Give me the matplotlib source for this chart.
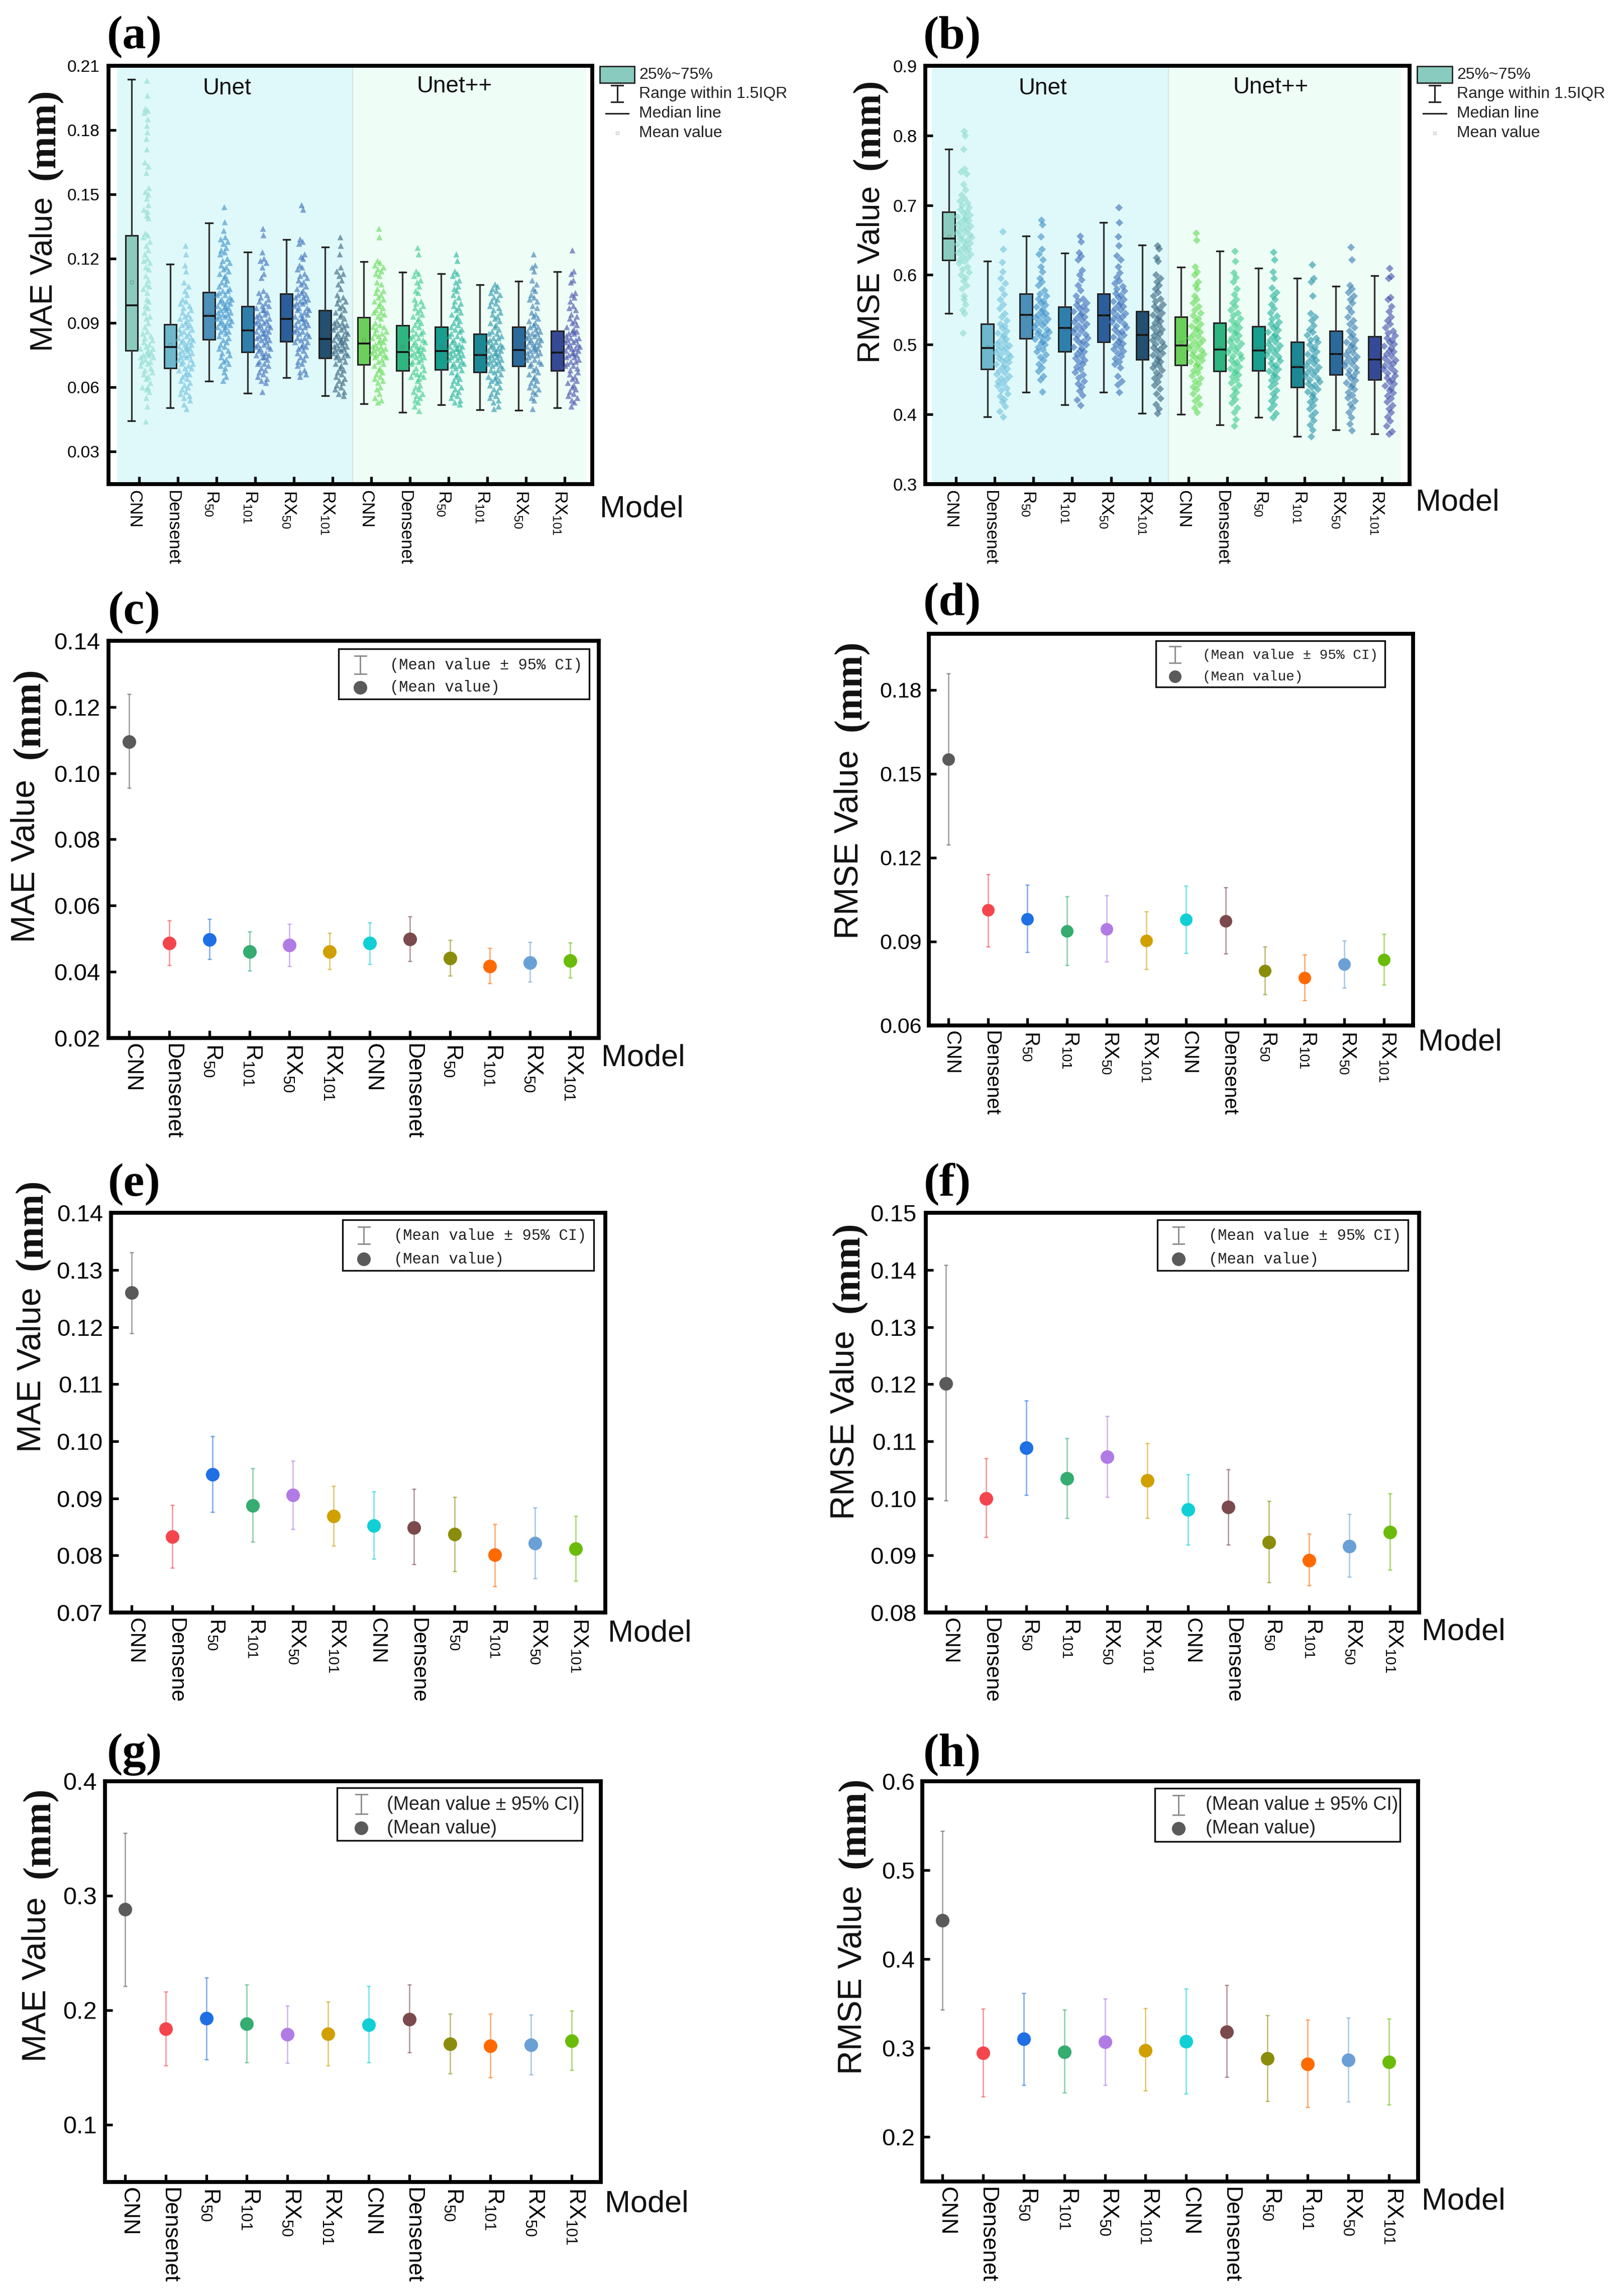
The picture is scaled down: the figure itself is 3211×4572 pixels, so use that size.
import matplotlib
matplotlib.use("Agg")
import matplotlib.pyplot as plt
from matplotlib.lines import Line2D
from matplotlib.patches import Rectangle
from matplotlib.transforms import ScaledTranslation

plt.rcParams['font.family'] = ['Liberation Sans', 'DejaVu Sans']
plt.rcParams['mathtext.fontset'] = 'custom'
plt.rcParams['mathtext.rm'] = 'Liberation Sans'
plt.rcParams['mathtext.default'] = 'rm'

W, H = 3211, 4572
fig = plt.figure(figsize=(W / 100, H / 100), dpi=100, facecolor='white')

LABELS = ['CNN', 'Densenet', 'R$_{50}$', 'R$_{101}$', 'RX$_{50}$', 'RX$_{101}$'] * 2
LABELS_SHORT = ['CNN', 'Densene', 'R$_{50}$', 'R$_{101}$', 'RX$_{50}$', 'RX$_{101}$'] * 2

BOX_COLORS = ['#8ACBBE', '#6DB8CD', '#4C8FB8', '#2F7FAD', '#2B5E9B', '#234F70',
              '#6BCF5C', '#2FB57F', '#189E8E', '#1C8894', '#2C6A9C', '#354A96']
PT_COLORS = ['#8FDDCF', '#74C3DF', '#3F92CC', '#3F6FBC', '#3C70BA', '#38647F',
             '#66DC58', '#3CCB8C', '#27B39C', '#2A96AC', '#3A7EB2', '#4651AE']
CI_COLORS = ['#5A5A5A', '#F4454D', '#1F6FE5', '#35AC70', '#B17BE5', '#D0A000',
             '#10D0D5', '#7A4A4C', '#8C8C0C', '#FF6A00', '#6AA0D5', '#6BBB0A']

# ---- panel (a): MAE box statistics
a_whislo = [.0443, .0505, .0627, .0573, .0644, .0560, .0522, .0484, .0518, .0494, .0493, .0505]
a_q1 = [.0771, .0689, .0823, .0763, .0814, .0737, .0706, .0677, .0682, .0670, .0699, .0677]
a_med = [.0981, .0787, .0933, .0864, .0919, .0826, .0804, .0765, .0768, .0751, .0773, .0761]
a_q3 = [.1308, .0892, .1042, .0978, .1035, .0959, .0926, .0887, .0882, .0849, .0882, .0863]
a_whishi = [.2035, .1174, .1365, .1231, .1288, .1253, .1186, .1136, .1129, .1078, .1095, .1138]
a_mean = [.109, .080, .094, .087, .093, .085, .082, .079, .079, .076, .079, .077]

# ---- panel (b): RMSE box statistics
b_whislo = [.545, .397, .432, .414, .432, .402, .400, .385, .396, .369, .378, .372]
b_q1 = [.621, .465, .509, .490, .504, .479, .471, .462, .463, .439, .457, .450]
b_med = [.652, .495, .543, .524, .542, .514, .499, .493, .492, .468, .487, .479]
b_q3 = [.690, .530, .573, .554, .573, .548, .540, .531, .526, .504, .520, .512]
b_whishi = [.780, .620, .656, .631, .675, .643, .611, .634, .610, .595, .584, .599]
b_mean = [.655, .497, .542, .523, .540, .514, .503, .495, .494, .470, .488, .480]

# ---- scatter values (thousandths of a mm)
a_pts_0 = [203,196,190,189,188,185,182,179,176,171,165,163,160,153,151,150,148,145,143,142,140,139,132,131,130,128,126,124,122,120,119,118,116,115,112,110,108,107,106,104,101,100,98,97,95,93,92,90,88,86,85,84,83,82,81,80,79,78,78,77,76,76,75,75,74,74,73,72,72,71,70,69,68,67,66,65,64,62,60,60,59,58,55,51,44]
a_pts_1 = [126,122,117,114,109,107,105,103,101,100,99,98,97,96,95,94,93,92,92,91,90,89,89,88,87,87,86,85,85,84,83,83,82,82,81,81,80,80,79,79,78,78,77,77,76,76,75,75,74,74,73,73,72,71,71,70,69,69,68,67,66,66,65,64,63,62,61,60,59,58,57,56,55,54,52,50]
a_pts_2 = [144,137,133,130,129,128,127,125,124,123,122,120,119,118,117,116,115,114,113,112,111,110,109,108,107,106,105,105,104,103,103,102,101,101,100,100,99,99,98,98,97,97,96,96,95,95,94,94,93,93,92,92,91,91,90,90,89,89,88,88,87,86,86,85,84,83,82,81,80,79,78,77,76,75,74,73,72,71,70,69,67,65,63]
a_pts_3 = [134,131,123,120,119,118,116,113,111,105,104,103,102,101,100,99,98,98,97,96,96,95,94,94,93,92,92,91,91,90,90,89,89,88,88,87,87,86,86,85,85,84,84,83,83,82,82,81,80,80,79,79,78,78,77,76,76,75,75,74,74,73,72,71,71,70,69,68,67,66,65,64,63,62,58]
a_pts_4 = [145,143,129,128,127,122,121,120,117,116,115,113,112,111,110,109,108,107,106,105,104,103,103,102,102,101,100,100,99,99,98,97,97,96,96,95,94,94,93,92,92,91,91,90,89,89,88,88,87,86,86,85,85,84,83,83,82,81,81,80,79,79,78,77,76,75,74,73,72,71,70,68,67,66,65]
a_pts_5 = [130,126,122,116,114,113,112,110,108,106,103,102,101,100,99,98,97,96,95,94,93,92,91,90,90,89,89,88,88,87,87,86,85,85,84,84,83,83,82,82,81,81,80,80,79,79,78,78,77,77,76,76,75,75,74,74,73,72,71,70,69,68,67,66,65,64,63,62,61,60,59,58,57,56]
a_pts_6 = [134,130,119,118,117,116,115,114,113,112,109,108,106,105,104,103,102,101,100,99,98,97,96,95,95,94,93,92,90,89,88,88,87,86,85,85,84,83,83,82,81,81,80,79,79,78,78,77,77,76,76,75,75,74,74,73,72,71,70,69,68,67,66,65,64,63,62,60,59,57,55,54,53]
a_pts_7 = [125,122,114,113,112,110,109,107,105,104,101,100,99,98,97,96,95,94,93,92,91,90,89,88,87,86,85,85,84,83,83,82,81,81,80,79,79,78,78,77,77,76,76,75,75,74,74,73,72,72,71,70,69,68,67,66,66,65,65,64,63,61,60,59,58,57,56,55,54,53,51,49]
a_pts_8 = [122,119,114,113,112,110,109,107,106,105,103,102,100,99,98,97,96,95,94,93,92,91,90,89,88,87,87,86,85,84,84,83,82,82,81,80,80,79,79,78,78,77,77,76,76,75,75,74,74,73,73,72,71,71,70,70,69,68,67,66,65,64,63,62,61,60,59,58,57,56,55,54,53,52]
a_pts_9 = [108,107,106,105,104,103,102,101,100,99,98,97,96,95,94,93,92,91,90,89,88,87,86,85,85,84,83,83,82,81,81,80,80,79,79,78,78,77,77,76,76,75,75,74,74,73,73,72,72,71,71,70,70,69,68,68,67,66,65,65,64,63,63,62,61,60,59,58,57,56,55,54,53,51,50]
a_pts_10 = [122,117,116,114,110,108,106,105,103,102,101,100,98,97,95,94,93,92,91,90,89,88,88,87,86,86,85,85,84,84,83,83,82,82,81,81,80,80,79,79,78,78,77,77,76,76,75,75,74,73,73,72,71,71,70,69,68,67,66,65,64,63,62,61,60,59,58,57,55,54,50]
a_pts_11 = [124,114,113,110,109,104,103,102,100,98,97,96,94,93,92,91,90,89,88,87,86,86,85,85,84,83,83,82,82,81,81,80,80,79,79,78,78,77,77,76,76,75,75,74,74,73,72,72,71,70,70,69,68,67,66,65,64,63,62,61,60,59,58,57,56,55,54,53,51]
a_points = [a_pts_0, a_pts_1, a_pts_2, a_pts_3, a_pts_4, a_pts_5, a_pts_6, a_pts_7, a_pts_8, a_pts_9, a_pts_10, a_pts_11]

b_pts_0 = [806,800,780,752,748,745,730,722,715,710,706,703,700,697,694,691,688,686,684,682,680,678,676,674,672,670,668,666,664,662,660,658,656,654,652,650,648,646,644,642,640,638,636,634,632,630,628,625,622,620,617,612,608,604,600,596,592,585,580,570,565,558,550,545,517]
b_pts_1 = [662,637,618,605,595,588,580,572,565,558,552,545,540,535,530,527,524,520,517,514,511,508,505,503,501,499,497,495,493,491,489,487,485,483,481,479,477,475,472,470,468,466,463,460,458,455,452,450,447,444,441,438,435,430,426,422,418,412,405,397]
b_pts_2 = [679,672,655,637,630,622,612,605,595,590,585,578,573,570,566,563,560,557,554,551,548,545,543,541,539,537,535,532,530,528,525,522,520,518,516,514,512,510,508,505,503,500,497,493,490,486,482,478,472,467,462,455,450,433]
b_pts_3 = [656,648,632,627,622,607,600,593,585,578,570,566,563,560,557,555,552,550,548,545,543,540,538,535,533,530,528,525,523,520,518,515,513,510,508,505,503,500,497,495,492,490,487,484,481,478,475,472,468,465,461,457,453,448,444,440,434,428,421,413]
b_pts_4 = [697,675,655,642,628,622,612,603,597,592,588,584,580,577,574,571,568,565,562,560,557,555,552,550,547,545,542,540,538,535,533,530,527,525,522,519,517,514,511,508,505,502,500,497,494,491,488,484,480,476,472,467,455,448,443,432]
b_pts_5 = [642,638,625,620,600,595,590,585,580,575,570,566,562,558,555,552,549,546,543,540,537,534,531,528,525,522,519,516,513,510,507,504,501,498,496,494,491,488,485,482,479,476,473,470,467,464,460,456,452,447,442,437,430,423,415,408,402]
b_pts_6 = [660,650,612,605,600,590,585,580,570,565,560,555,550,546,542,538,534,530,527,524,521,518,515,512,510,507,505,502,499,497,495,492,490,487,485,483,481,478,476,473,470,467,463,460,456,452,448,444,440,436,430,425,420,415,410,403]
b_pts_7 = [634,620,603,597,590,580,572,565,560,555,550,546,542,538,535,531,528,525,522,519,516,513,510,507,505,502,499,496,494,491,489,486,484,481,478,475,472,469,466,463,460,457,454,450,446,442,437,432,427,422,417,410,403,393,384]
b_pts_8 = [633,622,605,595,582,575,570,565,558,552,546,541,537,533,530,527,524,521,518,515,512,510,507,504,501,499,496,493,491,488,485,483,480,477,474,471,468,465,462,459,456,453,449,445,440,435,430,425,420,414,408,402,396]
b_pts_9 = [615,595,590,570,545,540,535,528,522,518,514,510,507,504,500,497,493,490,487,484,481,478,476,473,470,468,465,462,460,457,455,452,450,447,444,442,439,436,433,430,426,422,418,413,408,403,398,392,385,378,369]
b_pts_10 = [640,622,585,580,575,570,565,560,553,547,540,535,530,525,520,515,511,507,504,501,498,495,492,489,486,483,481,478,475,473,470,467,464,461,458,455,452,449,446,443,440,436,432,428,424,420,415,410,403,396,387,377]
b_pts_11 = [610,598,595,568,565,555,548,540,535,530,525,520,517,513,510,507,504,501,498,495,492,490,487,484,481,478,476,473,470,467,465,462,459,456,453,450,447,444,441,438,435,431,427,423,418,413,408,403,397,391,384,376,372]
b_points = [b_pts_0, b_pts_1, b_pts_2, b_pts_3, b_pts_4, b_pts_5, b_pts_6, b_pts_7, b_pts_8, b_pts_9, b_pts_10, b_pts_11]

# ---- panels (c)-(h): mean with 95% CI
c_mean = [.1095, .0486, .0497, .0461, .0480, .0460, .0486, .0498, .0441, .0417, .0428, .0434]
c_hi = [.1239, .0555, .0559, .0521, .0544, .0517, .0549, .0567, .0496, .0472, .0489, .0488]
c_lo = [.0955, .0419, .0438, .0403, .0416, .0407, .0423, .0432, .0388, .0365, .0369, .0382]

d_mean = [.1552, .1012, .0980, .0937, .0945, .0903, .0978, .0974, .0796, .0771, .0818, .0835]
d_hi = [.1859, .1141, .1103, .1061, .1065, .1007, .1099, .1094, .0881, .0852, .0904, .0926]
d_lo = [.1247, .0881, .0862, .0815, .0827, .0801, .0858, .0856, .0711, .0690, .0734, .0745]

e_mean = [.1260, .0833, .0942, .0887, .0906, .0869, .0852, .0849, .0837, .0801, .0821, .0812]
e_hi = [.1331, .0888, .1009, .0952, .0966, .0922, .0912, .0916, .0902, .0855, .0884, .0869]
e_lo = [.1189, .0778, .0876, .0824, .0846, .0817, .0794, .0784, .0772, .0746, .0760, .0755]

f_mean = [.1201, .1000, .1088, .1035, .1073, .1031, .0980, .0985, .0923, .0891, .0916, .0941]
f_hi = [.1409, .1070, .1171, .1105, .1144, .1096, .1042, .1051, .0995, .0938, .0972, .1008]
f_lo = [.0996, .0932, .1006, .0965, .1002, .0965, .0919, .0919, .0853, .0847, .0862, .0875]

g_mean = [.2880, .1837, .1927, .1882, .1786, .1792, .1873, .1921, .1705, .1686, .1695, .1731]
g_hi = [.3549, .2162, .2284, .2223, .2037, .2072, .2210, .2220, .1969, .1966, .1959, .1992]
g_lo = [.2207, .1515, .1570, .1544, .1538, .1518, .1544, .1628, .1444, .1412, .1438, .1477]

h_mean = [.4432, .2946, .3100, .2954, .3066, .2975, .3075, .3183, .2884, .2822, .2867, .2842]
h_hi = [.5440, .3440, .3618, .3432, .3556, .3444, .3668, .3705, .3369, .3319, .3340, .3328]
h_lo = [.3432, .2456, .2585, .2498, .2585, .2523, .2485, .2672, .2402, .2332, .2398, .2361]

# horizontal spread pattern of the strip points, in pixels
STRIP_OFFSETS = [0, 9, -7, 4, -12, 13, -3, 7, -10, 2, -14, 11, -5, 15, -8, 6, -1, 12, -13, 3]


def zp(cfg, zx, zy):
    """Reference crop position to figure fraction."""
    return ((cfg['x0'] + zx / cfg['sx']) / W, 1 - (cfg['y0'] + zy / 1.3635) / H)


def make_axes(cfg):
    x1, y1 = zp(cfg, cfg['L'], cfg['B'])
    x2, y2 = zp(cfg, cfg['R'], cfg['T'])
    ax = fig.add_axes([x1, y1, x2 - x1, y2 - y1])
    t0, dt = cfg['t0'], cfg['dt']
    ax.set_xlim((cfg['L'] - t0) / dt, (cfg['R'] - t0) / dt)
    ax.set_ylim(*cfg['ylim'])
    ax.set_xticks(range(12))
    ax.set_xticklabels(cfg.get('labels', LABELS), rotation=270, fontsize=cfg['xfs'])
    ax.set_yticks(cfg['yticks'])
    ax.set_yticklabels(cfg['ytl'], fontsize=cfg['yfs'])
    ax.tick_params(axis='x', direction='in', length=11, width=3.8, pad=8)
    ax.tick_params(axis='y', direction='in', length=11, width=3.8, pad=cfg['ypad'])
    shift = ScaledTranslation(cfg['lshift'] / 100, 0, fig.dpi_scale_trans)
    for tick in ax.xaxis.get_major_ticks():
        tick.label1.set_transform(tick.label1.get_transform() + shift)
    for s in ax.spines.values():
        s.set_linewidth(5.6)
        s.set_color('black')
    lab, lx, ly, lfs = cfg['ylab']
    x, y = zp(cfg, lx, ly)
    fig.text(x, y, lab, rotation=90, ha='center', va='center', fontsize=lfs, color='#111111')
    lx, ly = cfg['mm']
    x, y = zp(cfg, lx, ly)
    fig.text(x, y, '(mm)', rotation=90, ha='center', va='center', fontsize=56,
             family='Liberation Serif', weight='bold', color='#111111')
    x, y = zp(cfg, *cfg['model'])
    fig.text(x, y, 'Model', ha='left', va='center', fontsize=44, color='#111111')
    x, y = zp(cfg, *cfg['letter'])
    fig.text(x, y, cfg['name'], ha='center', va='center', fontsize=68,
             family='Liberation Serif', weight='bold', color='black')
    return ax


def strip_offsets(values, near):
    """Spread each point sideways according to how crowded its height is."""
    out = []
    for k, v in enumerate(values):
        n = sum(1 for u in values if abs(u - v) <= near)
        out.append(STRIP_OFFSETS[k % len(STRIP_OFFSETS)] * min(1.0, n / 7))
    return out


def box_panel(cfg, lo, q1, med, q3, hi, mean, points, marker, div):
    ax = make_axes(cfg)
    bgL, bgM, bgR = div
    ax.axvspan(bgL, bgM, color='#DFF9FA', lw=0, zorder=0)
    ax.axvspan(bgM, bgR, color='#EEFDF6', lw=0, zorder=0)
    ax.axvline(bgM, color='#D8E4E6', lw=1.6, zorder=0.5)
    stats = [dict(whislo=lo[i], q1=q1[i], med=med[i], q3=q3[i], whishi=hi[i], mean=mean[i], fliers=[])
             for i in range(12)]
    pos = [i - 0.19 for i in range(12)]
    arts = ax.bxp(stats, positions=pos, widths=0.32, patch_artist=True, showmeans=True,
                  manage_ticks=False, capwidths=0.17,
                  medianprops=dict(color='#111111', lw=2.6),
                  whiskerprops=dict(color='#333333', lw=2.4),
                  capprops=dict(color='#222222', lw=2.4),
                  boxprops=dict(edgecolor='#222222', lw=2.2),
                  meanprops=dict(marker='s', ms=4, mfc='none', mec='#55555566', mew=0.8))
    for patch, c in zip(arts['boxes'], BOX_COLORS):
        patch.set_facecolor(c)
    span = cfg['ylim'][1] - cfg['ylim'][0]
    px_x = cfg['dt'] / cfg['sx']
    for i, vals in enumerate(points):
        ys = [v / 1000 for v in vals]
        offs = strip_offsets(ys, span * 0.014)
        ax.scatter([i + 0.2 + o / px_x for o in offs], ys, s=cfg['ms'], marker=marker,
                   color=PT_COLORS[i], alpha=0.62, linewidths=0, zorder=3)
    for txt, zx, zy in cfg['regions']:
        x, y = zp(cfg, zx, zy)
        fig.text(x, y, txt, ha='center', va='center', fontsize=33, color='#111111')
    kx, tx = cfg['kx'], cfg['tx']
    x1, y1 = zp(cfg, kx - 34, 225)
    x2, y2 = zp(cfg, kx + 34, 180)
    fig.add_artist(Rectangle((x1, y1), x2 - x1, y2 - y1, transform=fig.transFigure,
                             fc='#89CBBF', ec='#222222', lw=2))
    for t, zy in zip(['25%~75%', 'Range within 1.5IQR', 'Median line', 'Mean value'], [203, 255, 308, 362]):
        x, y = zp(cfg, tx, zy)
        fig.text(x, y, t, ha='left', va='center', fontsize=23, color='#222222')
    a1, b1 = zp(cfg, kx, 232)
    a2, b2 = zp(cfg, kx, 277)
    fig.add_artist(Line2D([a1, a2], [b1, b2], transform=fig.transFigure, color='#222222', lw=2.2))
    for zy in (232, 277):
        a1, b1 = zp(cfg, kx - 11, zy)
        a2, b2 = zp(cfg, kx + 11, zy)
        fig.add_artist(Line2D([a1, a2], [b1, b2], transform=fig.transFigure, color='#222222', lw=2.2))
    a1, b1 = zp(cfg, kx - 22, 308)
    a2, b2 = zp(cfg, kx + 22, 308)
    fig.add_artist(Line2D([a1, a2], [b1, b2], transform=fig.transFigure, color='#222222', lw=2.2))
    a1, b1 = zp(cfg, kx, 362)
    fig.add_artist(Line2D([a1], [b1], transform=fig.transFigure, marker='s', ms=5, mfc='#EEEEEE',
                          mec='#CCCCCC', mew=0.8, ls='none'))


def ci_panel(cfg, mean, hi, lo):
    ax = make_axes(cfg)
    for i in range(12):
        ax.errorbar([i], [mean[i]], yerr=[[mean[i] - lo[i]], [hi[i] - mean[i]]], fmt='none',
                    ecolor=CI_COLORS[i], elinewidth=1.8, capsize=3, capthick=1.8, alpha=0.6, zorder=2)
        ax.plot([i], [mean[i]], 'o', color=CI_COLORS[i], ms=cfg.get('cms', 19.5), mew=0, zorder=3)
    bx1, bx2, by1, by2 = cfg['legbox']
    x1, y1 = zp(cfg, bx1, by2)
    x2, y2 = zp(cfg, bx2, by1)
    fig.add_artist(Rectangle((x1, y1), x2 - x1, y2 - y1, transform=fig.transFigure,
                             fc='white', ec='#111111', lw=2.4))
    ex, ey1, ey2, my, tx, ty1, ty2 = cfg['leg']
    a1, b1 = zp(cfg, ex, ey1)
    a2, b2 = zp(cfg, ex, ey2)
    fig.add_artist(Line2D([a1, a2], [b1, b2], transform=fig.transFigure, color='#8A8A8A', lw=2))
    for zy in (ey1, ey2):
        a1, b1 = zp(cfg, ex - 11, zy)
        a2, b2 = zp(cfg, ex + 11, zy)
        fig.add_artist(Line2D([a1, a2], [b1, b2], transform=fig.transFigure, color='#8A8A8A', lw=2))
    a1, b1 = zp(cfg, ex, my)
    fig.add_artist(Line2D([a1], [b1], transform=fig.transFigure, marker='o', ms=cfg.get('cms', 19.5),
                          color='#5A5A5A', mew=0, ls='none'))
    for t, zy in zip(['(Mean value ± 95% CI)', '(Mean value)'], [ty1, ty2]):
        x, y = zp(cfg, tx, zy)
        fig.text(x, y, t, ha='left', va='center', fontsize=cfg['lfs'], family=cfg['lfam'], color='#222222')


cfg_a = dict(name='(a)', x0=0, y0=0, sx=.98, L=212, R=1155, T=178, B=1315, t0=271, dt=75.5, lshift=-10,
             ylim=(.0147, .21), yticks=[.03, .06, .09, .12, .15, .18, .21],
             ytl=['0.03', '0.06', '0.09', '0.12', '0.15', '0.18', '0.21'], yfs=24, xfs=25, ypad=13,
             ylab=('MAE Value', 85, 745, 45), mm=(88, 365), model=(1170, 1382), letter=(263, 100),
             regions=[('Unet', 443, 240), ('Unet++', 887, 235)], kx=1204, tx=1247, ms=75)
cfg_b = dict(name='(b)', x0=1600, y0=0, sx=.973, L=235, R=1173, T=178, B=1315, t0=295, dt=75, lshift=-10,
             ylim=(.3, .9), yticks=[.3, .4, .5, .6, .7, .8, .9],
             ytl=['0.3', '0.4', '0.5', '0.6', '0.7', '0.8', '0.9'], yfs=25, xfs=25, ypad=11,
             ylab=('RMSE Value', 130, 745, 45), mm=(128, 337), model=(1185, 1365), letter=(288, 100),
             regions=[('Unet', 463, 240), ('Unet++', 905, 237)], kx=1222, tx=1265, ms=60)
box_panel(cfg_a, a_whislo, a_q1, a_med, a_q3, a_whishi, a_mean, a_points, '^', (-0.57, 5.52, 11.56))
box_panel(cfg_b, b_whislo, b_q1, b_med, b_q3, b_whishi, b_mean, b_points, 'D', (-0.63, 5.49, 11.49))

cfg_c = dict(name='(c)', x0=0, y0=1150, sx=.98, L=212, R=1168, T=172, B=1250, t0=252, dt=78.2, lshift=6,
             ylim=(.02, .14), yticks=[.02, .04, .06, .08, .10, .12, .14],
             ytl=['0.02', '0.04', '0.06', '0.08', '0.10', '0.12', '0.14'], yfs=34, xfs=32, ypad=12,
             ylab=('MAE Value', 50, 770, 47.5), mm=(58, 368), model=(1173, 1305), letter=(262, 95),
             legbox=(661, 1150, 193, 330), leg=(703, 213, 262, 298, 760, 238, 299), lfs=22, lfam='Liberation Mono')
cfg_d = dict(name='(d)', x0=1600, y0=1150, sx=.973, L=242, R=1180, T=153, B=1216, t0=280, dt=76.7, lshift=6,
             ylim=(.06, .2), yticks=[.06, .09, .12, .15, .18],
             ytl=['0.06', '0.09', '0.12', '0.15', '0.18'], yfs=31, xfs=28.5, ypad=10,
             ylab=('RMSE Value', 88, 725, 48), mm=(92, 293), model=(1190, 1262), letter=(288, 70),
             legbox=(682, 1126, 172, 297), leg=(719, 187, 232, 268, 773, 212, 270), lfs=20, lfam='Liberation Mono', cms=18)
cfg_e = dict(name='(e)', x0=0, y0=2300, sx=.98, L=217, R=1181, T=157, B=1242, t0=257, dt=78.7, lshift=7,
             ylim=(.07, .14), yticks=[.07, .08, .09, .10, .11, .12, .13, .14],
             ytl=['0.07', '0.08', '0.09', '0.10', '0.11', '0.12', '0.13', '0.14'], yfs=34, xfs=30.5, ypad=12,
             labels=LABELS_SHORT,
             ylab=('MAE Value', 62, 583, 48), mm=(63, 188), model=(1186, 1300), letter=(262, 80),
             legbox=(668, 1158, 176, 313), leg=(710, 195, 242, 282, 768, 220, 284), lfs=22, lfam='Liberation Mono')
cfg_f = dict(name='(f)', x0=1600, y0=2300, sx=.973, L=236, R=1192, T=157, B=1242, t0=275, dt=78.2, lshift=8,
             ylim=(.08, .15), yticks=[.08, .09, .10, .11, .12, .13, .14, .15],
             ytl=['0.08', '0.09', '0.10', '0.11', '0.12', '0.13', '0.14', '0.15'], yfs=34, xfs=30.5, ypad=13,
             labels=LABELS_SHORT,
             ylab=('RMSE Value', 80, 733, 48), mm=(88, 305), model=(1197, 1295), letter=(278, 80),
             legbox=(685, 1171, 176, 313), leg=(726, 195, 242, 282, 784, 220, 284), lfs=22, lfam='Liberation Mono')
cfg_g = dict(name='(g)', x0=0, y0=3422, sx=.98, L=205, R=1172, T=170, B=1258, t0=244, dt=79.2, lshift=7,
             ylim=(.05, .4), yticks=[.1, .2, .3, .4], ytl=['0.1', '0.2', '0.3', '0.4'], yfs=35, xfs=32, ypad=12,
             ylab=('MAE Value', 72, 708, 48), mm=(78, 310), model=(1180, 1318), letter=(263, 97),
             legbox=(658, 1136, 188, 331), leg=(705, 206, 259, 297, 755, 235, 298), lfs=27, lfam='Liberation Sans')
cfg_h = dict(name='(h)', x0=1600, y0=3422, sx=.973, L=230, R=1190, T=170, B=1257, t0=269, dt=78.6, lshift=8,
             ylim=(.15, .6), yticks=[.2, .3, .4, .5, .6], ytl=['0.2', '0.3', '0.4', '0.5', '0.6'], yfs=34, xfs=32, ypad=11,
             ylab=('RMSE Value', 95, 710, 48), mm=(100, 283), model=(1197, 1312), letter=(288, 97),
             legbox=(680, 1155, 189, 334), leg=(726, 208, 262, 298, 778, 235, 299), lfs=27, lfam='Liberation Sans')
ci_panel(cfg_c, c_mean, c_hi, c_lo)
ci_panel(cfg_d, d_mean, d_hi, d_lo)
ci_panel(cfg_e, e_mean, e_hi, e_lo)
ci_panel(cfg_f, f_mean, f_hi, f_lo)
ci_panel(cfg_g, g_mean, g_hi, g_lo)
ci_panel(cfg_h, h_mean, h_hi, h_lo)

fig.savefig('out.png', dpi=100, facecolor='white')
